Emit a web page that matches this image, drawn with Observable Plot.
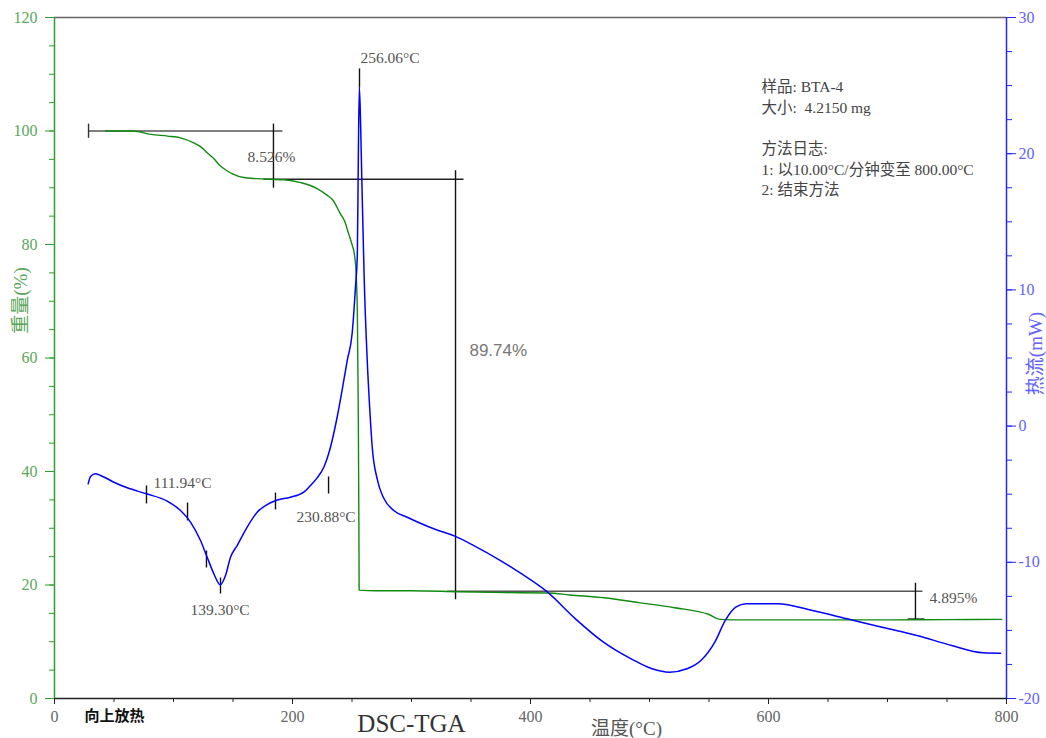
<!DOCTYPE html>
<html><head><meta charset="utf-8">
<script src="https://cdn.jsdelivr.net/npm/d3@7"></script>
<script src="https://cdn.jsdelivr.net/npm/@observablehq/plot@0.6"></script>
<style>html,body{margin:0;padding:0;background:#fff;overflow:hidden;}</style>
</head><body><div id="chart"></div><script>
// TGA: temperature (°C) and weight (%)
const tgaT = [43,66,81,95,106,117,123,128,134,139,145,150,159,170,179,193,207,215,221,229,234,240,244,247,250,252,253.5,254.5,255.3,255.8,256,270,300,340,380,415,433,462,491,521,550,559,580,650,700,750,796];
const tgaW = [100,100,99.4,99.1,98.8,97.9,97.2,96.2,95.1,93.9,93.0,92.4,91.8,91.6,91.5,91.4,90.9,90.4,89.8,88.7,87.8,85.5,84.0,82.0,80.0,78.3,74.7,68,50,30,19.1,19.0,19.0,18.8,18.65,18.6,18.25,17.75,16.9,16.0,14.8,13.95,13.85,13.85,13.85,13.9,13.95];
// DSC: temperature (°C) and heat flow (mW)
const dscT = [28.3,30.3,34.5,38.7,44,49.9,61.1,77.3,94.7,105.9,114.3,122.7,128.3,133.9,139.3,143.7,147.9,153.5,161.9,170.3,178.7,186,198.3,209.5,215.1,220.7,226.3,231.9,237.5,243.1,246,250.1,252.9,254.5,255.4,256.2,257.3,258.2,259.2,260.2,262.8,265,267,271.2,276.7,285.1,296.4,318.7,336.4,352.4,374.8,391.6,414.3,437.8,461.3,484.6,502.2,516.8,531.5,543.2,554.9,563.7,572.5,581.3,607.6,636.9,666.1,695.4,724.7,754,780.3,795];
const dscD = [-4.24,-3.70,-3.50,-3.63,-3.85,-4.12,-4.53,-4.97,-5.51,-6.20,-7.05,-8.40,-9.63,-10.84,-11.65,-10.97,-9.63,-8.77,-7.42,-6.32,-5.76,-5.46,-5.22,-4.85,-4.36,-3.8,-3.02,-1.55,0.65,3.35,4.82,6.78,10.2,12.65,20.5,24.9,21.9,18.3,14.6,11.0,4.82,1.15,-1.55,-3.9,-5.3,-6.2,-6.69,-7.54,-8.08,-8.77,-9.87,-10.8,-12.19,-14.15,-15.86,-17.09,-17.82,-18.07,-17.82,-17.21,-15.86,-14.27,-13.30,-13.05,-13.05,-13.54,-14.15,-14.77,-15.37,-16.11,-16.64,-16.67];

// axis ticks
const xMajor = [0,200,400,600,800];
const xMinor = d3.range(0, 801, 50);
const wMajor = [0,20,40,60,80,100,120];
const wMinor = d3.range(0, 121, 5);
const dMajor = [-20,-10,0,10,20,30];
const dMinor = d3.range(-20, 30.01, 2.5);

// step annotations (temperature, weight %)
const segT1 = [28.6, 175.6, 330, 28.6, 184, 337, 723.5, 717];
const segW1 = [100, 91.5, 18.9, 101.3, 101.3, 93.1, 20.4, 14.0];
const segT2 = [191.6, 343.7, 729.4, 28.6, 184, 337, 723.5, 731];
const segW2 = [100, 91.5, 18.9, 98.8, 90.0, 17.5, 14.0, 14.0];
const segColor = ["#555","#222","#555","#333","#111","#111","#111","#111"];

// DSC peak markers (temperature, heat flow from/to)
const mkT = [77.3, 111.8, 127.7, 139.5, 185.7, 230.3, 256.3];
const mkD1 = [-4.36, -5.61, -9.13, -11.12, -4.88, -3.70, 26.26];
const mkD2 = [-5.68, -6.93, -10.38, -12.29, -6.12, -4.95, 24.86];

// labels
const lblText = ["111.94°C","139.30°C","230.88°C","256.06°C","8.526%","4.895%"];
const lblT = [83.2, 114.3, 203.4, 257.1, 162.2, 735.3];
const lblW = [38.0, 15.6, 32.0, 112.9, 95.4, 17.7];

const toW = d => (d + 20) * 2.4;   // heat flow → left-scale units
const tga = tgaT.map((t, i) => ({t, w: tgaW[i]}));
const dsc = dscT.map((t, i) => ({t, d: dscD[i]}));
const segs = segT1.map((t, i) => ({x1: t, y1: segW1[i], x2: segT2[i], y2: segW2[i], c: segColor[i]}));
const marks = mkT.map((t, i) => ({t, a: toW(mkD1[i]), b: toW(mkD2[i])}));
const lbls = lblText.map((s, i) => ({s, t: lblT[i], w: lblW[i]}));

const green = "#2e9e2e", greenTxt = "#5aa65a", blue = "#2525ff", blueTxt = "#6262ff";
const serif = "'Liberation Serif', 'Noto Sans CJK SC', serif";

const plot = Plot.plot({
  width: 1046, height: 738,
  marginLeft: 54, marginRight: 40, marginTop: 17, marginBottom: 40,
  style: {fontFamily: serif, fontSize: "16px", background: "#fff", overflow: "visible"},
  x: {domain: [0, 800]},
  y: {domain: [0, 120]},
  marks: [
    // axes lines
    Plot.ruleY([120], {stroke: "#666", strokeWidth: 1.5}),
    Plot.ruleY([0], {stroke: "#222", strokeWidth: 1.5}),
    Plot.ruleX([0], {stroke: green, strokeWidth: 1.5}),
    Plot.ruleX([800], {stroke: blue, strokeWidth: 1.5}),
    // left axis
    Plot.axisY(wMinor, {anchor: "left", tickSize: 5, tickFormat: () => "", stroke: green, label: null}),
    Plot.axisY(wMajor, {anchor: "left", tickSize: 9, tickPadding: 8, stroke: green, fill: greenTxt, fontSize: 16, label: null}),
    // right axis (heat flow)
    Plot.axisY(dMinor.map(toW), {anchor: "right", tickSize: 5, tickFormat: () => "", stroke: blue, label: null}),
    Plot.axisY(dMajor.map(toW), {anchor: "right", tickSize: 9, tickPadding: 3, stroke: blue, fill: blueTxt, fontSize: 16, label: null,
      tickFormat: w => String(Math.round(w / 2.4 - 20))}),
    // bottom axis
    Plot.axisX(xMinor, {anchor: "bottom", tickSize: 4, tickFormat: () => "", stroke: "#222", label: null}),
    Plot.axisX(xMajor, {anchor: "bottom", tickSize: 6, tickPadding: 6, stroke: "#222", fill: "#666", fontSize: 16, label: null}),
    // annotations
    Plot.link(segs, {x1: "x1", y1: "y1", x2: "x2", y2: "y2", stroke: "c", strokeWidth: 1.4}),
    Plot.link(marks, {x1: "t", x2: "t", y1: "a", y2: "b", stroke: "#111", strokeWidth: 1.4}),
    // curves
    Plot.line(tga, {x: "t", y: "w", stroke: "#118a11", strokeWidth: 1.4, curve: "monotone-x"}),
    Plot.line(dsc, {x: "t", y: d => toW(d.d), stroke: "#0000ff", strokeWidth: 1.5, curve: "monotone-x"}),
    // labels
    Plot.text(lbls, {x: "t", y: "w", text: "s", textAnchor: "start", fill: "#555", fontSize: 15.5}),
    Plot.text(["89.74%"], {x: 348.7, y: 61.4, textAnchor: "start", fill: "#777", fontSize: 17, fontFamily: "'Liberation Sans', sans-serif"}),
    // info block
    Plot.text(["样品: BTA-4\n大小:  4.2150 mg\n\n方法日志:\n1: 以10.00°C/分钟变至 800.00°C\n2: 结束方法"],
      {frameAnchor: "top-left", dx: 707, dy: 60, textAnchor: "start", lineAnchor: "top", lineHeight: 1.33, fontSize: 15.5, fill: "#444"}),
    // axis titles
    Plot.text(["重量(%)"], {frameAnchor: "left", dx: -34, dy: -57.5, rotate: -90, textAnchor: "middle", lineAnchor: "middle", fontSize: 19, fill: greenTxt}),
    Plot.text(["热流(mW)"], {frameAnchor: "right", dx: 29, dy: -4.5, rotate: -90, textAnchor: "middle", lineAnchor: "middle", fontSize: 19, fill: blueTxt}),
    Plot.text(["向上放热"], {frameAnchor: "bottom-left", dx: 30, dy: 18, textAnchor: "start", lineAnchor: "middle", fontSize: 15, fill: "#111", fontWeight: "bold", fontFamily: "'Noto Sans CJK SC', sans-serif"}),
    Plot.text(["DSC-TGA"], {frameAnchor: "bottom-left", dx: 357, dy: 25, textAnchor: "middle", lineAnchor: "middle", fontSize: 25, fill: "#333"}),
    Plot.text(["温度(°C)"], {frameAnchor: "bottom-left", dx: 572, dy: 30, textAnchor: "middle", lineAnchor: "middle", fontSize: 19, fill: "#555"})
  ]
});
document.getElementById("chart").appendChild(plot);
</script></body></html>
